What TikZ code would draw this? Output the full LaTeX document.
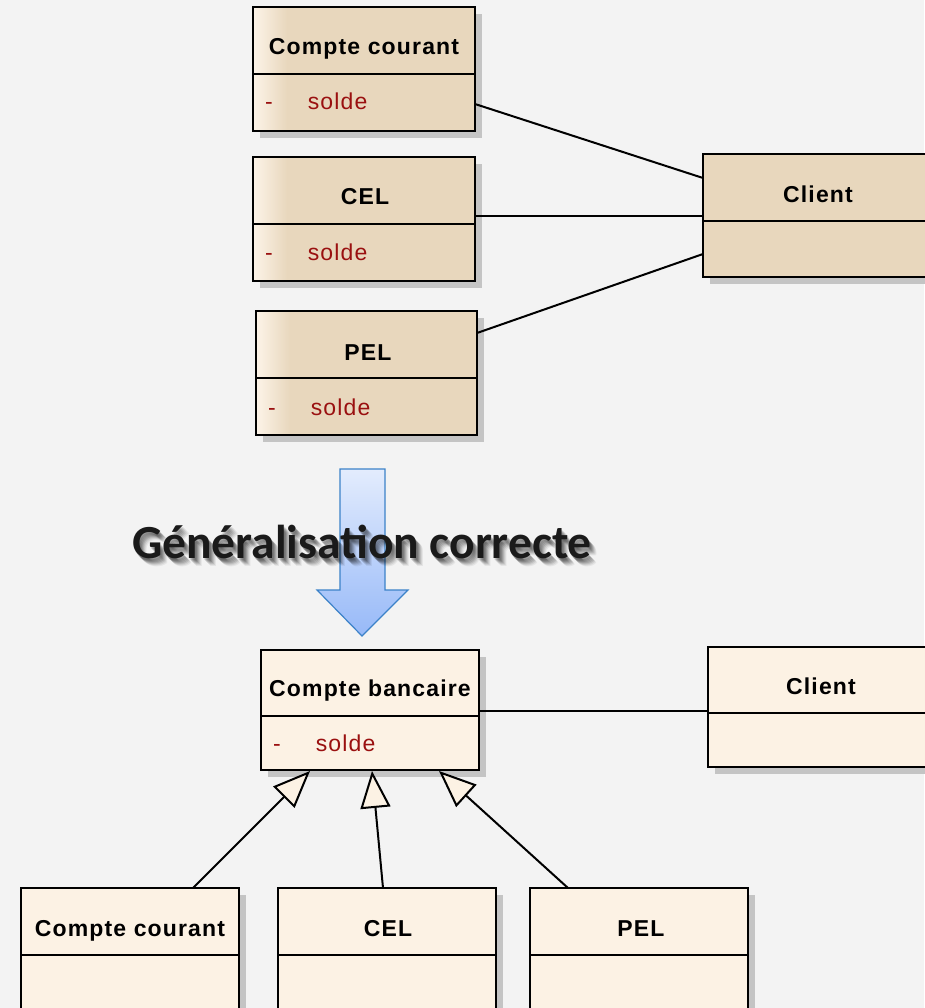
\documentclass[tikz,border=0pt]{standalone}
\usepackage{fontspec}
\setmainfont{Liberation Sans}
\newfontfamily\classfont[LetterSpace=5]{Liberation Sans}
\newfontfamily\headfont{Carlito}
\usetikzlibrary{arrows.meta,calc}

\definecolor{bg}{HTML}{F3F3F3}
\definecolor{tan}{HTML}{E8D7BD}
\definecolor{tanlight}{HTML}{FCF3E7}
\definecolor{cream}{HTML}{FCF2E4}
\definecolor{attrred}{HTML}{9A1010}
\definecolor{shadowgray}{HTML}{C4C4C4}
\definecolor{arrowtop}{HTML}{E3ECFD}
\definecolor{arrowbot}{HTML}{97B9F8}
\definecolor{arrowedge}{HTML}{3C82C8}
\definecolor{headink}{HTML}{1A1A1A}

\tikzset{
  classframe/.style={draw=black, line width=2.2pt, inner sep=0pt, outer sep=0pt},
  tanbox/.style={classframe, fill=tan},
  creambox/.style={classframe, fill=cream},
  divider/.style={line width=2.2pt},
  classtitle/.style={font=\classfont\fontsize{23}{26}\selectfont\bfseries, inner sep=0pt, anchor=base},
  attrtext/.style={font=\classfont\fontsize{23}{26}\selectfont, text=attrred, inner sep=0pt, anchor=base west},
  assoc/.style={line width=2pt},
  inherit/.style={line width=2pt,
    -{Triangle[open, length=37pt, width=30pt, fill=cream, line width=2pt]}},
  headline/.style={font=\headfont\fontsize{47.5}{54}\selectfont\bfseries},
}

% #1 name, #2 x, #3 y, #4 width, #5 height, #6 title band height, #7 box style
\newcommand{\classbox}[7]{%
  \fill[shadowgray] (#2+7,#3+7) rectangle ++(#4,#5);
  \node[#7, minimum width=#4pt, minimum height=#5pt, anchor=north west] (#1) at (#2,#3) {};
  \draw[divider] (#2,#3+#6) -- ++(#4,0);
}
% left-edge highlight of the tan boxes
\newcommand{\tanglow}[1]{%
  \shade[left color=tanlight, right color=tan]
    ($(#1.north west)+(1,1)$) rectangle ($(#1.south west)+(34,-1)$);
  \draw[line width=2.2pt] (#1.north west) rectangle (#1.south east);
}

\begin{document}
\begin{tikzpicture}[x=1pt, y=-1pt]
\fill[bg] (0,0) rectangle (924,1008);
\useasboundingbox (0,0) rectangle (924,1008);

% ---------- separate account classes ----------
\classbox{cc1}{253}{7}{222}{124}{67}{tanbox}
\tanglow{cc1}
\draw[divider] (253,74) -- (475,74);
\node[classtitle] (cc1t) at (364,55) {Compte courant};
\node[attrtext] (cc1v) at (265,110) {-\hspace{35pt}solde};

\classbox{cel1}{253}{157}{222}{124}{67}{tanbox}
\tanglow{cel1}
\draw[divider] (253,224) -- (475,224);
\node[classtitle] (cel1t) at (365,205) {CEL};
\node[attrtext] (cel1v) at (265,260) {-\hspace{35pt}solde};

\classbox{pel1}{256}{311}{221}{124}{67}{tanbox}
\tanglow{pel1}
\draw[divider] (256,378) -- (477,378);
\node[classtitle] (pel1t) at (368,360) {PEL};
\node[attrtext] (pel1v) at (268,415) {-\hspace{35pt}solde};

\classbox{cli1}{703}{154}{240}{123}{67}{tanbox}
\node[classtitle] (cli1t) at (818,203) {Client};

\draw[assoc] ([yshift=-35pt]cc1.east) -- ([yshift=37.5pt]cli1.west);
\draw[assoc] ([yshift=3pt]cel1.east) -- ([yshift=-0.5pt]cli1.west);
\draw[assoc] ([yshift=40pt]pel1.east) -- ([yshift=-38.5pt]cli1.west);

% ---------- block arrow and caption (soft drop shadow under the text) ----------
\shade[top color=arrowtop, bottom color=arrowbot, draw=arrowedge, line width=1.2pt]
  (340,469) -- (385,469) -- (385,590) -- (408,590) -- (362,636)
  -- (317,590) -- (340,590) -- cycle;
\foreach \dx/\dy/\op in {7/8/0.06, 6/7/0.08, 5/6/0.10, 4/5/0.12, 3/4/0.14, 2/3/0.14, 1/2/0.12}
  \node[headline, text=black, opacity=\op] at (362+\dx,542+\dy) {Généralisation correcte};
\node[headline, text=headink] (caption) at (362,542) {Généralisation correcte};

% ---------- generalised classes ----------
\classbox{cb}{261}{650}{218}{120}{66}{creambox}
\node[classtitle] (cbt) at (370,696) {Compte bancaire};
\node[attrtext] (cbv) at (273,751) {-\hspace{35pt}solde};

\classbox{cli2}{708}{647}{240}{120}{66}{creambox}
\node[classtitle] (cli2t) at (821,694) {Client};

\draw[assoc] ([yshift=-1pt]cb.east) -- ([yshift=-1pt]cb.east -| cli2.west);

\classbox{cc2}{21}{888}{218}{140}{67}{creambox}
\node[classtitle] (cc2t) at (130,936) {Compte courant};

\classbox{cel2}{278}{888}{218}{140}{67}{creambox}
\node[classtitle] (cel2t) at (388,936) {CEL};

\classbox{pel2}{530}{888}{218}{140}{67}{creambox}
\node[classtitle] (pel2t) at (641,936) {PEL};

\draw[inherit] ([xshift=63pt]cc2.north) -- ([xshift=-60pt,yshift=-1pt]cb.south);
\draw[inherit] ([xshift=-4pt]cel2.north) -- ([xshift=2pt,yshift=-1pt]cb.south);
\draw[inherit] ([xshift=-71pt]pel2.north) -- ([xshift=69pt,yshift=-1pt]cb.south);
\end{tikzpicture}
\end{document}
